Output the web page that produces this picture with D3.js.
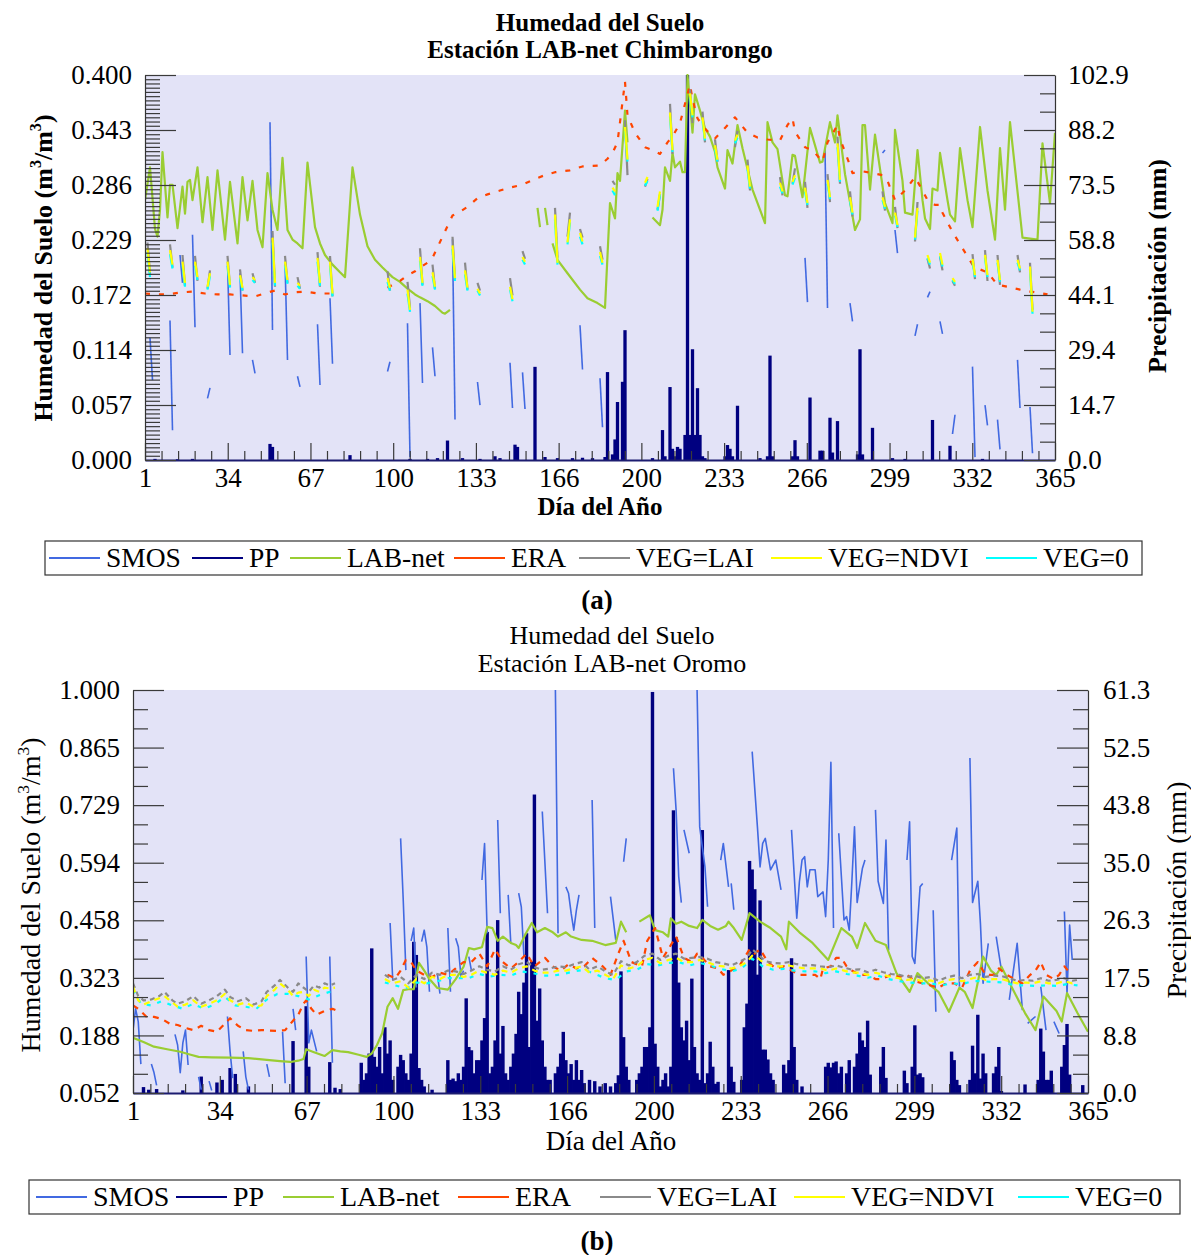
<!DOCTYPE html>
<html>
<head>
<meta charset="utf-8">
<script src="https://cdn.jsdelivr.net/npm/d3@7"></script>
<style>
  body { margin: 0; background: #fff; }
</style>
</head>
<body>
<svg id="chart" width="1191" height="1255"></svg>
<script>
// ---------- labels ----------
const seriesNames = ["SMOS", "PP", "LAB-net", "ERA", "VEG=LAI", "VEG=NDVI", "VEG=0"];
const xTickLabels = ["1", "34", "67", "100", "133", "166", "200", "233", "266", "299", "332", "365"];
const leftTicksA = ["0.000", "0.057", "0.114", "0.172", "0.229", "0.286", "0.343", "0.400"];
const rightTicksA = ["0.0", "14.7", "29.4", "44.1", "58.8", "73.5", "88.2", "102.9"];
const leftTicksB = ["0.052", "0.188", "0.323", "0.458", "0.594", "0.729", "0.865", "1.000"];
const rightTicksB = ["0.0", "8.8", "17.5", "26.3", "35.0", "43.8", "52.5", "61.3"];

// ---------- panel (a) Chimbarongo ----------
// short segments: [day, value at day, value at day+1]
const smosA = [[3,0.127,0.083],[11,0.145,0.031],[15,0.213,0.184],[20,0.234,0.138],[26,0.064,0.075],[34,0.206,0.109],[39,0.194,0.111],[44,0.104,0.09],[51,0.351,0.135],[57,0.206,0.104],[62,0.087,0.076],[70,0.141,0.078],[75,0.168,0.1],[98,0.092,0.102],[106,0.142,0.003],[111,0.163,0.08],[116,0.117,0.087],[124,0.229,0.042],[134,0.081,0.057],[147,0.101,0.054],[152,0.091,0.053],[175,0.14,0.094],[183,0.085,0.034],[265,0.21,0.164],[273,0.324,0.158],[283,0.163,0.144],[296,0.319,0.322],[301,0.239,0.215],[309,0.129,0.141],[314,0.169,0.175],[319,0.144,0.131],[324,0.027,0.047],[332,0.097,0.003],[337,0.057,0.036],[342,0.042,0.011],[350,0.104,0.054],[355,0.055,0.007]];

const ppA = [[5,0.3],[14,0.2],[20,0.3],[51,4.3],[52,3.5],[83,1.3],[107,0.3],[114,0.3],[118,0.5],[122,5.2],[128,0.5],[135,0.3],[141,1],[143,0.5],[149,4.1],[150,3.5],[157,24.9],[161,0.8],[166,0.5],[172,0.5],[176,0.6],[180,0.5],[185,0.8],[186,23.5],[188,1.5],[189,5.5],[190,15.5],[192,20.9],[193,34.7],[204,0.5],[208,8],[209,1],[211,19.5],[212,3],[213,1],[214,3.5],[215,3],[217,6.7],[218,102.9],[219,6.7],[220,29.6],[221,6.7],[222,19.2],[223,6.7],[224,1],[225,0.5],[233,1],[234,4],[235,3],[236,1],[238,14.5],[247,0.5],[250,1],[251,27.9],[252,1],[260,1],[261,5.3],[262,1],[267,16.7],[271,2.5],[272,2.5],[275,11.3],[276,2],[278,10.4],[286,1.5],[287,29.6],[288,1.5],[292,8.6],[300,0.5],[305,0.3],[316,10.7],[323,3.8],[336,0.3]];

const labA = [[1,0.27],[3,0.304],[5,0.24],[6,0.232],[7,0.26],[8,0.32],[10,0.252],[11,0.286],[12,0.286],[14,0.241],[16,0.284],[17,0.256],[18,0.289],[19,0.291],[20,0.27],[22,0.304],[24,0.247],[26,0.294],[28,0.239],[30,0.301],[33,0.229],[35,0.289],[38,0.225],[40,0.294],[42,0.249],[44,0.29],[46,0.239],[48,0.221],[50,0.298],[52,0.26],[54,0.239],[56,0.314],[58,0.239],[60,0.229],[62,0.225],[64,0.22],[66,0.309],[69,0.242],[71,0.225],[73,0.213],[76,0.203],[79,0.195],[81,0.19],[84,0.304],[87,0.255],[90,0.222],[93,0.208],[96,0.2],[100,0.19],[103,0.185],[106,0.178],[109,0.172],[111,0.169],[114,0.165],[117,0.16],[120,0.153],[121,0.152],[123,0.156],null,
  [158,0.262],[159,0.242],null,[161,0.262],[162,0.244],null,
  [164,0.225],[166,0.208],[170,0.194],[175,0.177],[178,0.168],[182,0.163],[185,0.158],[187,0.267],[189,0.251],[190,0.298],[191,0.29],[193,0.363],[194,0.33],null,
  [204,0.252],[207,0.244],[208,0.26],[209,0.304],[211,0.29],[212,0.319],[213,0.304],[215,0.31],[216,0.299],[217,0.299],[218,0.4],[220,0.34],[221,0.38],[223,0.363],[225,0.345],[227,0.336],[229,0.32],[230,0.304],[233,0.282],[234,0.322],[236,0.308],[238,0.348],[240,0.324],[244,0.281],[249,0.246],[250,0.351],[252,0.33],[254,0.323],[256,0.29],[257,0.275],[258,0.274],[260,0.317],[261,0.316],[264,0.273],[267,0.345],[271,0.309],[272,0.31],[275,0.351],[277,0.33],[278,0.358],[281,0.297],[285,0.239],[287,0.25],[288,0.348],[289,0.348],[291,0.281],[293,0.338],[297,0.267],[300,0.246],[301,0.343],[304,0.29],[305,0.257],[308,0.255],[310,0.322],[312,0.27],[313,0.251],[315,0.24],[316,0.282],[318,0.28],[319,0.319],[322,0.27],[323,0.255],[325,0.248],[327,0.324],[330,0.27],[332,0.242],[335,0.346],[338,0.28],[341,0.229],[343,0.324],[345,0.26],[347,0.351],[352,0.231],[358,0.229],[360,0.329],[363,0.267],[365,0.34]];

const eraA = [[1,0.173],[5,0.172],[10,0.172],[15,0.174],[20,0.175],[25,0.173],[30,0.172],[35,0.172],[40,0.171],[45,0.17],[50,0.174],[53,0.176],[57,0.172],[60,0.174],[65,0.175],[70,0.173],[76,0.173],null,
  [98,0.179],[100,0.182],[103,0.186],[106,0.192],[109,0.196],[111,0.2],[114,0.205],[116,0.21],[120,0.232],[124,0.254],[127,0.258],[130,0.263],[134,0.272],[138,0.276],[143,0.28],[147,0.283],[152,0.286],[157,0.292],[161,0.296],[165,0.299],[171,0.301],[176,0.305],[183,0.306],[186,0.313],[188,0.319],[190,0.33],[193,0.393],[194,0.358],[197,0.34],[201,0.325],[204,0.322],[207,0.318],[210,0.33],[212,0.336],[215,0.35],[219,0.39],[220,0.375],[222,0.355],[225,0.344],[229,0.334],[233,0.345],[237,0.356],[242,0.34],[246,0.335],[250,0.333],[255,0.332],[258,0.348],[260,0.355],[261,0.341],[265,0.325],[268,0.322],[272,0.31],[274,0.33],[278,0.348],[279,0.334],[283,0.306],[284,0.298],[288,0.3],[292,0.298],[296,0.296],[298,0.29],[301,0.27],[305,0.28],[309,0.294],[312,0.28],[314,0.27],[317,0.265],[319,0.265],[320,0.257],[324,0.237],[328,0.22],[332,0.203],[335,0.198],[338,0.195],[342,0.182],[346,0.18],[351,0.177],[355,0.175],[358,0.174],[362,0.172]];

const laiA = [[2,0.226,0.193],[11,0.224,0.2],[16,0.213,0.181],[21,0.212,0.186],[26,0.178,0.197],[34,0.212,0.18],[39,0.198,0.176],[44,0.194,0.184],[52,0.238,0.18],[57,0.212,0.184],[62,0.19,0.178],[70,0.216,0.18],[75,0.212,0.17],[98,0.196,0.176],[106,0.185,0.158],[111,0.22,0.182],[116,0.203,0.178],[124,0.232,0.188],[129,0.205,0.177],[134,0.184,0.176],[147,0.189,0.171],[152,0.217,0.209],[165,0.262,0.21],[170,0.232,0.257],[175,0.24,0.231],[183,0.222,0.208],[188,0.29,0.286],[193,0.353,0.296],[201,0.284,0.292],[206,0.26,0.276],[211,0.37,0.318],[219,0.385,0.35],[224,0.362,0.33],[229,0.333,0.31],[237,0.325,0.342],[242,0.312,0.28],[255,0.294,0.275],[260,0.287,0.303],[265,0.289,0.262],[274,0.297,0.268],[278,0.336,0.287],[283,0.279,0.253],[296,0.279,0.259],[301,0.263,0.241],[309,0.227,0.268],[314,0.209,0.199],[319,0.211,0.197],[324,0.186,0.181],[332,0.214,0.188],[337,0.218,0.186],[342,0.213,0.182],[350,0.213,0.195],[355,0.205,0.156]];

const ndviA = [[2,0.22,0.195],[11,0.218,0.203],[16,0.206,0.184],[21,0.206,0.19],[26,0.18,0.194],[34,0.206,0.182],[39,0.192,0.179],[44,0.19,0.187],[52,0.231,0.184],[57,0.206,0.187],[62,0.184,0.181],[70,0.21,0.184],[75,0.206,0.173],[98,0.189,0.179],[106,0.177,0.156],[111,0.211,0.184],[116,0.195,0.18],[124,0.223,0.189],[129,0.197,0.179],[134,0.178,0.173],[147,0.18,0.167],[152,0.211,0.206],[165,0.255,0.205],[170,0.226,0.25],[175,0.236,0.227],[183,0.216,0.205],[188,0.283,0.279],[193,0.346,0.312],[201,0.288,0.294],[206,0.263,0.279],[211,0.361,0.322],[219,0.381,0.358],[224,0.356,0.334],[229,0.327,0.312],[237,0.332,0.338],[242,0.306,0.284],[255,0.288,0.279],[260,0.289,0.296],[265,0.283,0.267],[274,0.291,0.273],[278,0.329,0.291],[283,0.273,0.257],[296,0.273,0.263],[301,0.257,0.244],[309,0.231,0.262],[314,0.213,0.205],[319,0.215,0.203],[324,0.189,0.185],[332,0.209,0.192],[337,0.213,0.192],[342,0.208,0.187],[350,0.208,0.199],[355,0.201,0.154]];

const zeroA = [[2,0.216,0.19],[11,0.214,0.199],[16,0.203,0.18],[21,0.202,0.187],[26,0.177,0.191],[34,0.202,0.179],[39,0.189,0.176],[44,0.187,0.184],[52,0.226,0.181],[57,0.202,0.183],[62,0.181,0.178],[70,0.206,0.181],[75,0.202,0.17],[98,0.185,0.176],[106,0.173,0.154],[111,0.207,0.181],[116,0.191,0.177],[124,0.219,0.186],[129,0.193,0.176],[134,0.176,0.171],[147,0.177,0.165],[152,0.208,0.203],[165,0.25,0.203],[170,0.224,0.247],[175,0.232,0.224],[183,0.212,0.203],[188,0.28,0.275],[193,0.342,0.31],[201,0.285,0.29],[206,0.259,0.276],[211,0.357,0.32],[219,0.377,0.356],[224,0.352,0.332],[229,0.323,0.31],[237,0.329,0.335],[242,0.302,0.282],[255,0.284,0.277],[260,0.286,0.293],[265,0.279,0.265],[274,0.287,0.271],[278,0.325,0.289],[283,0.269,0.255],[296,0.27,0.261],[301,0.254,0.242],[309,0.229,0.259],[314,0.21,0.203],[319,0.212,0.201],[324,0.187,0.183],[332,0.206,0.19],[337,0.21,0.19],[342,0.205,0.185],[350,0.205,0.197],[355,0.198,0.152]];

// ---------- panel (b) Oromo ----------
const smosB = [[1,0.2],[2,0.25],[3,0.22],[4,0.12],null,[8,0.12],[9,0.1],[10,0.07],null,[17,0.19],[18,0.165],[19,0.1],[20,0.17],[21,0.2],[22,0.118],null,[26,0.09],[27,0.06],null,[30,0.08],[31,0.058],null,[37,0.232],[38,0.15],[39,0.087],null,[43,0.15],[44,0.09],[45,0.06],null,[52,0.12],[53,0.09],null,[58,0.196],[59,0.075],null,[62,0.25],[63,0.2],null,[67,0.373],[68,0.17],[69,0.2],[71,0.15],null,[76,0.373],[77,0.123],null,
  [99,0.452],[100,0.318],null,[103,0.651],[104,0.506],[105,0.341],null,[107,0.41],[108,0.44],[109,0.3],null,[111,0.408],[112,0.435],[113,0.396],[114,0.29],null,[117,0.333],[118,0.286],null,[121,0.44],[122,0.29],null,[124,0.416],[125,0.396],[126,0.326],[127,0.34],null,[129,0.373],[130,0.34],null,[134,0.553],[135,0.639],[136,0.428],null,[140,0.694],[141,0.475],null,[144,0.518],[145,0.404],null,[148,0.522],[149,0.49],[150,0.373],null,[157,0.714],[159,0.475],null,[162,1.0],[163,0.428],null,[166,0.537],[167,0.522],[168,0.475],[169,0.435],[170,0.482],[171,0.518],null,[176,0.741],[177,0.44],null,[183,0.514],[185,0.412],null,[188,0.596],[189,0.651],null,
  [207,0.816],[208,0.718],[209,0.561],[210,0.5],null,[211,0.671],[213,0.616],null,[216,1.0],[217,0.678],[219,0.584],[220,0.49],null,[225,0.6],[226,0.639],[228,0.537],null,[229,0.545],[230,0.483],null,[237,0.855],[239,0.678],[240,0.584],[241,0.639],[242,0.651],[244,0.577],[246,0.6],[248,0.53],null,[252,0.671],[254,0.463],[255,0.549],[256,0.6],[257,0.608],[258,0.537],[259,0.577],[261,0.577],[262,0.514],[264,0.525],[265,0.467],[266,0.6],[267,0.83],[268,0.44],null,[270,0.663],[272,0.459],[273,0.467],[274,0.435],[275,0.55],[276,0.678],[277,0.5],[279,0.58],[280,0.6],null,[284,0.718],[285,0.55],[287,0.498],[288,0.647],[289,0.388],null,[296,0.6],[297,0.69],[298,0.373],[299,0.357],[301,0.537],[302,0.545],null,[306,0.482],[307,0.243],null,[313,0.6],[315,0.675],[316,0.302],null,[320,0.84],[321,0.5],[323,0.55],[324,0.451],[325,0.31],[327,0.404],null,[330,0.42],[332,0.341],null,[335,0.271],[338,0.404],[340,0.247],null,[342,0.216],[345,0.232],null,[347,0.302],[349,0.2],null,[352,0.22],[354,0.192],null,[356,0.479],[357,0.287],[358,0.447],[359,0.365]];

const ppB = [[5,0.9],[7,0.5],[10,0.6],[20,0.4],[27,2.5],[33,1.6],[35,2],[38,3.8],[40,2.9],[45,1],[62,7.9],[67,13.2],[68,4],[76,4.7],[78,0.8],[80,0.6],[88,4.6],[89,2],[90,3],[91,6],[92,22],[93,5.5],[94,4],[95,7],[96,3],[97,10],[98,6],[99,8],[100,2],[102,4],[103,5.8],[104,5],[105,3],[106,2],[107,6],[108,23],[109,21],[110,3.8],[111,2],[112,1],[115,0.5],[121,5],[122,2],[123,2.2],[124,1.8],[125,3],[126,2],[127,4],[128,14.4],[129,7],[130,6.5],[131,3],[132,5],[133,5],[134,8],[135,11.4],[136,24.5],[137,3],[138,4],[139,8],[140,26.3],[141,6],[142,10.2],[143,3],[144,2],[145,4],[146,6],[147,9],[148,15.4],[149,12],[150,16.8],[151,24.3],[152,7],[153,20],[154,45.4],[155,11],[156,15.9],[157,8],[158,4],[159,2],[160,2],[162,3],[163,4],[164,6],[165,9.3],[166,5],[167,3],[168,4.4],[169,2],[170,5],[171,2],[172,3.5],[173,1.5],[175,2],[177,1.8],[179,1],[181,1.5],[183,1],[185,1.5],[186,2.7],[187,18.5],[188,8.5],[189,4],[190,2],[193,2],[194,3],[195,4],[196,7],[197,7],[198,10],[199,61],[200,7.5],[201,4],[202,1],[203,2],[204,3],[205,1],[206,4],[207,43],[208,23.7],[209,16.8],[210,10],[211,8],[212,11],[213,5],[214,17.4],[215,7],[216,3],[217,2],[218,40],[219,1.5],[220,3],[221,7.8],[222,4],[223,1.4],[224,1.7],[228,18.7],[229,4],[230,1.7],[233,2],[234,10],[235,13.6],[236,35.3],[237,34],[238,31],[239,18],[240,29.3],[241,6.6],[242,6.6],[243,5.1],[244,3],[245,2],[249,4.3],[250,3],[251,5],[252,20.5],[253,7],[254,2],[256,1],[265,4],[266,4.6],[267,3.9],[268,4.6],[269,4.8],[270,3],[271,4],[273,3],[274,5],[276,4],[277,6],[278,9.2],[279,8],[280,7],[281,11],[282,2.8],[286,4],[287,7],[288,2.3],[295,3.4],[296,1.5],[298,4],[299,10.3],[300,2.8],[301,3],[302,2.4],[313,6.3],[314,5],[315,2],[316,1.2],[320,2],[321,7.2],[322,3],[323,11.9],[324,2.2],[325,6],[326,3],[329,3],[330,4],[331,7],[332,0.3],[341,1.3],[346,2],[347,9.8],[348,6.3],[349,2],[350,2],[351,3.4],[355,4],[356,7.3],[357,10.5],[358,2.8],[363,1.2]];

const labB = [[1,0.182],[5,0.172],[9,0.161],[14,0.155],[19,0.149],[23,0.142],[26,0.137],[31,0.136],[38,0.135],[45,0.134],[52,0.13],[57,0.127],[61,0.125],[64,0.128],[66,0.132],[67,0.155],[70,0.148],[74,0.139],[77,0.153],[80,0.15],[83,0.148],[87,0.142],[90,0.137],[92,0.145],[94,0.165],[96,0.193],[98,0.255],[100,0.275],[102,0.25],[104,0.294],[106,0.296],[108,0.296],[110,0.358],[112,0.34],[114,0.32],[117,0.299],[121,0.295],[124,0.32],[127,0.349],[129,0.393],[131,0.39],[134,0.395],[136,0.443],[138,0.44],[140,0.41],[142,0.42],[145,0.405],[147,0.4],[148,0.393],[151,0.43],[153,0.452],[155,0.43],[158,0.44],[161,0.43],[163,0.42],[166,0.43],[168,0.42],[172,0.412],[176,0.41],[181,0.4],[185,0.405],[187,0.455],[189,0.43],null,
  [194,0.455],[198,0.47],[200,0.435],[203,0.43],[205,0.42],[206,0.463],[208,0.45],[210,0.455],[213,0.445],[216,0.44],[218,0.459],[221,0.445],[224,0.436],[227,0.445],[228,0.455],[230,0.44],[233,0.412],[236,0.475],[238,0.465],[240,0.455],[244,0.44],[248,0.42],[250,0.39],[251,0.455],[255,0.43],[260,0.405],[263,0.385],[266,0.365],[271,0.44],[273,0.43],[275,0.42],[277,0.393],[280,0.452],[284,0.41],[288,0.4],[292,0.334],[296,0.299],[297,0.29],[300,0.334],[304,0.31],[308,0.29],[312,0.243],[316,0.3],[318,0.29],[321,0.252],[325,0.373],[328,0.34],[330,0.33],[332,0.349],[336,0.3],[341,0.24],[345,0.2],[348,0.279],[353,0.245],[355,0.22],[357,0.287],[361,0.24],[365,0.196]];

const eraB = [[1,0.258],[3,0.25],[6,0.232],[9,0.231],[12,0.226],[15,0.215],[18,0.212],[21,0.205],[24,0.2],[27,0.21],[30,0.2],[33,0.196],[36,0.215],[38,0.228],[41,0.21],[44,0.2],[47,0.198],[50,0.2],[53,0.199],[56,0.198],[59,0.2],[62,0.222],[64,0.236],[66,0.262],[67,0.27],[69,0.25],[71,0.236],[74,0.245],[77,0.25],[79,0.245],null,
  [98,0.33],[101,0.322],[103,0.34],[105,0.365],[107,0.36],[109,0.34],[112,0.33],[115,0.325],[118,0.335],[121,0.33],[124,0.345],[127,0.36],[130,0.36],[133,0.38],[136,0.35],[139,0.39],[142,0.36],[145,0.345],[148,0.36],[151,0.38],[154,0.35],[158,0.37],[161,0.35],[164,0.34],[167,0.355],[170,0.345],[173,0.35],[176,0.37],[180,0.35],[183,0.33],[186,0.38],[188,0.41],[191,0.36],[195,0.35],[197,0.41],[200,0.44],[203,0.37],[206,0.4],[208,0.42],[211,0.37],[214,0.36],[216,0.38],[218,0.37],[221,0.35],[224,0.345],[226,0.33],[229,0.34],[232,0.35],[236,0.39],[238,0.38],[240,0.39],[243,0.36],[246,0.345],[249,0.35],[252,0.34],[255,0.33],[258,0.33],[261,0.33],[263,0.32],[264,0.345],[267,0.35],[269,0.37],[271,0.37],[273,0.35],[275,0.34],[278,0.33],[281,0.33],[284,0.32],[286,0.32],[290,0.33],[293,0.325],[296,0.33],[299,0.315],[302,0.31],[305,0.305],[308,0.3],[311,0.31],[314,0.31],[317,0.3],[320,0.34],[323,0.36],[326,0.33],[329,0.33],[331,0.345],[334,0.33],[337,0.32],[340,0.31],[343,0.33],[345,0.34],[347,0.36],[349,0.33],[352,0.32],[354,0.33],[356,0.35],[358,0.335]];

const laiB = [[1,0.31],[3,0.28],[5,0.27],[8,0.272],[11,0.28],[13,0.29],[16,0.27],[18,0.262],[21,0.268],[24,0.28],[27,0.262],[30,0.27],[33,0.28],[36,0.295],[38,0.278],[41,0.268],[44,0.275],[47,0.26],[50,0.268],[52,0.29],[55,0.305],[57,0.318],[60,0.3],[62,0.29],[64,0.31],[66,0.3],[68,0.29],[70,0.305],[72,0.3],[74,0.31],[76,0.305],[78,0.31],null,
  [97,0.33],[100,0.318],[103,0.325],[106,0.31],[109,0.33],[112,0.32],[115,0.335],[118,0.33],[121,0.34],[124,0.338],[127,0.332],[130,0.34],[133,0.35],[136,0.342],[139,0.338],[142,0.35],[145,0.342],[148,0.355],[151,0.36],[154,0.348],[157,0.342],[160,0.345],[163,0.35],[166,0.348],[169,0.355],[172,0.36],[175,0.342],[178,0.35],[181,0.338],[184,0.33],[187,0.362],[190,0.352],[193,0.36],[196,0.375],[199,0.38],[202,0.365],[205,0.375],[208,0.38],[211,0.368],[214,0.37],[217,0.372],[220,0.368],[223,0.36],[226,0.357],[229,0.352],[232,0.36],[235,0.37],[237,0.39],[239,0.38],[242,0.362],[245,0.358],[248,0.357],[251,0.36],[254,0.355],[257,0.352],[260,0.353],[263,0.35],[266,0.348],[269,0.352],[272,0.347],[275,0.342],[278,0.343],[281,0.336],[284,0.342],[287,0.336],[290,0.332],[293,0.33],[296,0.325],[299,0.328],[302,0.322],[305,0.325],[308,0.316],[311,0.324],[314,0.328],[317,0.322],[320,0.33],[323,0.332],[326,0.325],[329,0.328],[332,0.327],[335,0.322],[338,0.316],[341,0.318],[344,0.316],[347,0.322],[350,0.316],[353,0.318],[356,0.322],[359,0.316],[361,0.318]];

const ndviB = [[1,0.302],[3,0.27],[5,0.26],[8,0.268],[11,0.275],[13,0.28],[16,0.265],[18,0.255],[21,0.26],[24,0.27],[27,0.255],[30,0.262],[33,0.27],[36,0.285],[38,0.27],[41,0.26],[44,0.265],[47,0.255],[50,0.258],[52,0.28],[55,0.295],[57,0.31],[60,0.295],[62,0.28],[64,0.288],[66,0.29],[68,0.28],[70,0.295],[72,0.29],[74,0.3],[76,0.298],[78,0.3],null,
  [97,0.32],[100,0.31],[103,0.315],[106,0.3],[109,0.32],[112,0.31],[115,0.325],[118,0.32],[121,0.33],[124,0.33],[127,0.325],[130,0.33],[133,0.34],[136,0.335],[139,0.33],[142,0.34],[145,0.335],[148,0.345],[151,0.35],[154,0.34],[157,0.335],[160,0.335],[163,0.34],[166,0.34],[169,0.345],[172,0.35],[175,0.335],[178,0.34],[181,0.33],[184,0.32],[187,0.352],[190,0.345],[193,0.35],[196,0.365],[199,0.37],[202,0.357],[205,0.365],[208,0.37],[211,0.36],[214,0.36],[217,0.365],[220,0.36],[223,0.352],[226,0.35],[229,0.345],[232,0.35],[235,0.36],[237,0.375],[239,0.37],[242,0.355],[245,0.35],[248,0.35],[251,0.352],[254,0.348],[257,0.345],[260,0.345],[263,0.345],[266,0.34],[269,0.345],[272,0.34],[275,0.335],[278,0.335],[281,0.33],[284,0.335],[287,0.33],[290,0.325],[293,0.322],[296,0.318],[299,0.32],[302,0.315],[305,0.317],[308,0.31],[311,0.317],[314,0.32],[317,0.315],[320,0.32],[323,0.325],[326,0.318],[329,0.32],[332,0.32],[335,0.315],[338,0.31],[341,0.312],[344,0.31],[347,0.315],[350,0.31],[353,0.31],[356,0.315],[359,0.31],[361,0.312]];

const zeroB = [[1,0.295],[4,0.262],[8,0.258],[12,0.268],[16,0.258],[20,0.25],[24,0.262],[28,0.25],[32,0.26],[36,0.278],[40,0.258],[44,0.255],[48,0.25],[52,0.272],[56,0.285],[60,0.285],[64,0.28],[68,0.272],[72,0.282],[76,0.29],[78,0.292],null,
  [97,0.312],[101,0.305],[105,0.298],[109,0.312],[113,0.31],[117,0.315],[121,0.322],[125,0.322],[129,0.322],[133,0.332],[137,0.326],[141,0.33],[145,0.328],[149,0.338],[153,0.335],[157,0.328],[161,0.328],[165,0.332],[169,0.338],[173,0.342],[177,0.332],[181,0.322],[185,0.318],[189,0.338],[193,0.342],[197,0.355],[201,0.352],[205,0.358],[209,0.36],[213,0.352],[217,0.358],[221,0.352],[225,0.344],[229,0.338],[233,0.345],[237,0.368],[241,0.35],[245,0.342],[249,0.344],[253,0.34],[257,0.338],[261,0.338],[265,0.334],[269,0.338],[273,0.332],[277,0.328],[281,0.323],[285,0.328],[289,0.32],[293,0.315],[297,0.312],[301,0.31],[305,0.31],[309,0.305],[313,0.31],[317,0.308],[321,0.315],[325,0.315],[329,0.313],[333,0.312],[337,0.305],[341,0.305],[345,0.304],[349,0.305],[353,0.304],[357,0.308],[361,0.305]];

// ---------- drawing ----------
const serif = "'Liberation Serif', 'Times New Roman', Times, serif";
const colors = ["#4169e1", "#000080", "#9acd32", "#ff4500", "#8a8a8a", "#ffff00", "#00ffff"];
const plotBg = "#e3e3f7";
const svg = d3.select("#chart");

function frame(p) {
  const x = d3.scaleLinear().domain([1, 365]).range([p.left, p.right]);
  const y = d3.scaleLinear().domain(p.yDomain).range([p.bottom, p.top]);
  const yr = d3.scaleLinear().domain(p.rDomain).range([p.bottom, p.top]);

  svg.append("rect")
    .attr("x", p.left).attr("y", p.top)
    .attr("width", p.right - p.left).attr("height", p.bottom - p.top)
    .attr("fill", plotBg);

  svg.append("clipPath").attr("id", p.id + "-clip")
    .append("rect")
    .attr("x", p.left).attr("y", p.top - 1)
    .attr("width", p.right - p.left).attr("height", p.bottom - p.top + 1);

  const g = svg.append("g").attr("clip-path", "url(#" + p.id + "-clip)");
  return { g, x, y, yr };
}

function bars(c, data) {
  c.g.append("g").selectAll("rect")
    .data(data)
    .enter()
    .append("rect")
    .attr("x", d => c.x(d[0] - 0.5) - 0.4)
    .attr("width", d => c.x(d[0] + 0.5) - c.x(d[0] - 0.5) + 0.8)
    .attr("y", d => c.yr(d[1]))
    .attr("height", d => c.yr(0) - c.yr(d[1]))
    .attr("fill", colors[1]);
}

function path(c, data, color, width, dash) {
  const line = d3.line()
    .defined(d => d !== null)
    .x(d => c.x(d[0]))
    .y(d => c.y(d[1]));
  c.g.append("path")
    .datum(data)
    .attr("d", line)
    .attr("fill", "none")
    .attr("stroke", color)
    .attr("stroke-width", width)
    .attr("stroke-linejoin", "round")
    .attr("stroke-dasharray", dash || null);
}

function segs(c, data, color, width) {
  c.g.append("g").selectAll("line")
    .data(data)
    .enter()
    .append("line")
    .attr("x1", d => c.x(d[0]))
    .attr("x2", d => c.x(d[0] + 1))
    .attr("y1", d => c.y(d[1]))
    .attr("y2", d => c.y(d[2]))
    .attr("stroke", color)
    .attr("stroke-width", width);
}

function styleAxis(sel, size) {
  sel.attr("font-family", serif).attr("font-size", size);
  sel.select(".domain").attr("stroke", "#333").attr("stroke-width", 1.2);
  sel.selectAll(".tick line").attr("stroke", "#3a3a3a").attr("stroke-width", 1.2);
  sel.selectAll(".tick text").attr("fill", "#000");
}

function axes(p, c, leftLabels, rightLabels) {
  const xMajor = d3.range(12).map(i => 1 + i * 364 / 11);
  const xMinor = d3.range(56).filter(i => i % 5).map(i => 1 + i * 364 / 55);
  const [y0, y1] = p.yDomain;
  const yMajor = d3.range(8).map(i => y0 + i * (y1 - y0) / 7);
  const yMinor = d3.range(7 * p.leftSub).filter(i => i % p.leftSub).map(i => y0 + i * (y1 - y0) / (7 * p.leftSub));
  const r1 = p.rDomain[1];
  const rMajor = d3.range(8).map(i => i * r1 / 7);
  const rMinor = d3.range(21).filter(i => i % 3).map(i => i * r1 / 21);

  // bottom
  svg.append("g").attr("transform", "translate(0," + p.bottom + ")")
    .call(d3.axisBottom(c.x).tickValues(xMinor).tickSizeInner(-9).tickSizeOuter(0).tickFormat(""))
    .call(s => { styleAxis(s, 27); s.select(".domain").remove(); });
  svg.append("g").attr("transform", "translate(0," + p.bottom + ")")
    .call(d3.axisBottom(c.x).tickValues(xMajor).tickSizeInner(-17).tickSizeOuter(0).tickPadding(8)
      .tickFormat((d, i) => xTickLabels[i]))
    .call(s => { styleAxis(s, 27); s.select(".domain").attr("stroke", "#1c1c70").attr("stroke-width", 2); });

  // left
  svg.append("g").attr("transform", "translate(" + p.left + ",0)")
    .call(d3.axisLeft(c.y).tickValues(yMinor).tickSizeInner(-15).tickSizeOuter(0).tickFormat(""))
    .call(s => { styleAxis(s, 27); s.select(".domain").remove(); });
  svg.append("g").attr("transform", "translate(" + p.left + ",0)")
    .call(d3.axisLeft(c.y).tickValues(yMajor).tickSizeInner(-31).tickSizeOuter(0).tickPadding(13)
      .tickFormat((d, i) => leftLabels[i]))
    .call(s => styleAxis(s, 27));

  // right
  svg.append("g").attr("transform", "translate(" + p.right + ",0)")
    .call(d3.axisRight(c.yr).tickValues(rMinor).tickSizeInner(-15).tickSizeOuter(0).tickFormat(""))
    .call(s => { styleAxis(s, 27); s.select(".domain").remove(); });
  svg.append("g").attr("transform", "translate(" + p.right + ",0)")
    .call(d3.axisRight(c.yr).tickValues(rMajor).tickSizeInner(-31).tickSizeOuter(0).tickPadding(p.rPad)
      .tickFormat((d, i) => rightLabels[i]))
    .call(s => styleAxis(s, 27));
}

function label(x, y, txt, size, weight, rotate) {
  return svg.append("text")
    .attr("transform", "translate(" + x + "," + y + ")" + (rotate ? " rotate(-90)" : ""))
    .attr("text-anchor", "middle")
    .attr("font-family", serif)
    .attr("font-size", size)
    .attr("font-weight", weight)
    .text(txt);
}

function unitLabel(x, y, size, weight) {
  const t = svg.append("text")
    .attr("transform", "translate(" + x + "," + y + ") rotate(-90)")
    .attr("text-anchor", "middle")
    .attr("font-family", serif)
    .attr("font-size", size)
    .attr("font-weight", weight);
  t.append("tspan").text("Humedad del Suelo (m");
  t.append("tspan").attr("dy", -11).attr("font-size", size * 0.62).text("3");
  t.append("tspan").attr("dy", 11).text("/m");
  t.append("tspan").attr("dy", -11).attr("font-size", size * 0.62).text("3");
  t.append("tspan").attr("dy", 11).text(")");
}

function legend(box, starts, size) {
  svg.append("rect")
    .attr("x", box[0]).attr("y", box[1])
    .attr("width", box[2]).attr("height", box[3])
    .attr("fill", "#fff").attr("stroke", "#333").attr("stroke-width", 1.2);
  const cy = box[1] + box[3] / 2;
  seriesNames.forEach((name, i) => {
    svg.append("line")
      .attr("x1", starts[i]).attr("x2", starts[i] + 51)
      .attr("y1", cy).attr("y2", cy)
      .attr("stroke", colors[i]).attr("stroke-width", 2);
    svg.append("text")
      .attr("x", starts[i] + 57).attr("y", cy + 9)
      .attr("font-family", serif).attr("font-size", size)
      .text(name);
  });
}

// ----- panel (a)
const pa = { id: "a", left: 145, right: 1055, top: 75, bottom: 460, yDomain: [0, 0.4], rDomain: [0, 102.9], leftSub: 13, rPad: 13 };
const ca = frame(pa);
bars(ca, ppA);
segs(ca, smosA, colors[0], 1.6);
path(ca, labA, colors[2], 2.2);
path(ca, eraA, colors[3], 2.2, "5,9");
segs(ca, laiA, colors[4], 2.2);
segs(ca, zeroA, colors[6], 2.2);
segs(ca, ndviA, colors[5], 2.2);
axes(pa, ca, leftTicksA, rightTicksA);

label(600, 31, "Humedad del Suelo", 25, "bold");
label(600, 58, "Estación LAB-net Chimbarongo", 25, "bold");
unitLabel(52, 268, 26, "bold");
label(1166, 266, "Precipitación (mm)", 26, "bold", true);
label(600, 515, "Día del Año", 25, "bold");
legend([45, 541, 1097, 34], [49, 192, 290, 454, 579, 771, 986], 27.5);
label(597, 609, "(a)", 27, "bold");

// ----- panel (b)
const pb = { id: "b", left: 133, right: 1088, top: 690, bottom: 1093, yDomain: [0.052, 1.0], rDomain: [0, 61.3], leftSub: 3, rPad: 15 };
const cb = frame(pb);
bars(cb, ppB);
path(cb, smosB, colors[0], 1.6);
path(cb, labB, colors[2], 2.2);
path(cb, eraB, colors[3], 2.2, "6,6");
path(cb, laiB, colors[4], 2.2, "5,4");
path(cb, zeroB, colors[6], 2.2, "4,7");
path(cb, ndviB, colors[5], 2.2, "6,5");
axes(pb, cb, leftTicksB, rightTicksB);

label(612, 644, "Humedad del Suelo", 26, "normal");
label(612, 672, "Estación LAB-net Oromo", 26, "normal");
unitLabel(40, 895, 28, "normal");
label(1186, 890, "Precipitación (mm)", 28, "normal", true);
label(611, 1150, "Día del Año", 27, "normal");
legend([29, 1180, 1151, 34], [36, 176, 283, 458, 600, 794, 1018], 28);
label(597, 1250, "(b)", 27, "bold");
</script>
</body>
</html>
